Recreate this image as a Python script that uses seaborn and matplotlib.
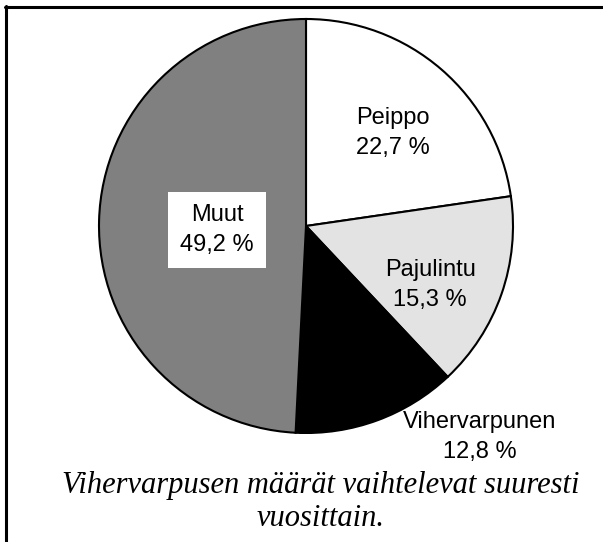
import matplotlib
matplotlib.use("Agg")
import matplotlib.pyplot as plt
from matplotlib.lines import Line2D
import seaborn as sns

sns.set_theme(style="white")
plt.rcParams['font.family'] = ['Liberation Sans', 'DejaVu Sans']

# -------------------------
# Data
# -------------------------
species = ["Peippo", "Pajulintu", "Vihervarpunen", "Muut"]
shares = [22.7, 15.3, 12.8, 49.2]
colors = ["#ffffff", "#e3e3e3", "#000000", "#808080"]
# label centres (pie units, radius = 1)
label_pos = [(0.42, 0.45), (0.60, -0.285), (0.84, -1.02), (-0.43, -0.02)]
caption = "Vihervarpusen määrät vaihtelevat suuresti\nvuosittain."

W, H = 603, 542
fig = plt.figure(figsize=(W / 100, H / 100), dpi=100)
ax = fig.add_axes([0, 0, 1, 1])

ax.pie(shares, colors=colors, startangle=90, counterclock=False,
       wedgeprops=dict(edgecolor="black", linewidth=1.5))

# map pie so centre sits at (306, 226) px with radius 207 px
cx, cy, r = 306, 226, 207
ax.set_aspect("auto")
ax.set_xlim(-cx / r, (W - cx) / r)
ax.set_ylim(-(H - cy) / r, cy / r)
ax.axis("off")

for name, val, (x, y) in zip(species, shares, label_pos):
    txt = f"{name}\n{val:.1f} %".replace(".", ",")
    kw = {}
    if name == "Muut":
        kw["bbox"] = dict(boxstyle="square,pad=0.5", fc="white", ec="none")
    ax.text(x, y, txt, ha="center", va="center", fontsize=17,
            linespacing=1.5, color="black", **kw)

fig.text(0.532, 1 - 502 / H, caption, ha="center", va="center",
         fontsize=22, style="italic", family="Liberation Serif",
         linespacing=1.18, multialignment="center", color="black")

# frame (only top and left edges show)
fig.add_artist(Line2D([5 / W, 1], [1 - 7 / H, 1 - 7 / H], color="black", lw=2.2))
fig.add_artist(Line2D([6 / W, 6 / W], [0, 1 - 6 / H], color="black", lw=2.2))

fig.savefig("out.png", dpi=100)
